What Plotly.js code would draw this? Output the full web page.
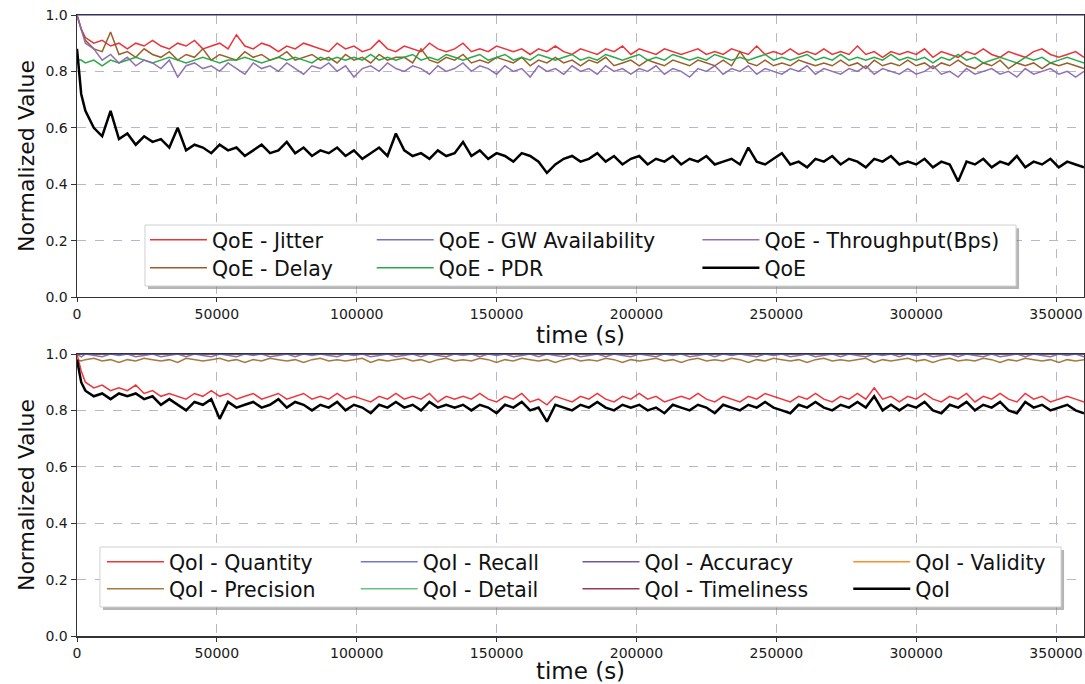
<!DOCTYPE html>
<html>
<head>
<meta charset="utf-8">
<script src="https://cdn.plot.ly/plotly-3.0.1.min.js"></script>
<style>html,body{margin:0;padding:0;background:#fff;}#chart{width:1085px;height:684px;}</style>
</head>
<body>
<div id="chart"></div>
<script>
// time axis (seconds)
const time = [0,1500,3000,6000,9000,12000,15000,18000,21000,24000,27000,30000,33000,36000,39000,42000,45000,48000,51000,54000,57000,60000,63000,66000,69000,72000,75000,78000,81000,84000,87000,90000,93000,96000,99000,102000,105000,108000,111000,114000,117000,120000,123000,126000,129000,132000,135000,138000,141000,144000,147000,150000,153000,156000,159000,162000,165000,168000,171000,174000,177000,180000,183000,186000,189000,192000,195000,198000,201000,204000,207000,210000,213000,216000,219000,222000,225000,228000,231000,234000,237000,240000,243000,246000,249000,252000,255000,258000,261000,264000,267000,270000,273000,276000,279000,282000,285000,288000,291000,294000,297000,300000,303000,306000,309000,312000,315000,318000,321000,324000,327000,330000,333000,336000,339000,342000,345000,348000,351000,354000,357000,360000];
const timeEnds = [0, 360000];

// ---- QoE panel ----
const qoeJitter = [1.00,0.95,0.92,0.90,0.91,0.89,0.90,0.88,0.90,0.89,
0.91,0.89,0.88,0.90,0.89,0.91,0.88,0.89,0.90,0.88,
0.93,0.89,0.88,0.90,0.89,0.87,0.89,0.88,0.90,0.89,
0.88,0.87,0.90,0.88,0.89,0.87,0.88,0.91,0.88,0.87,
0.89,0.88,0.87,0.90,0.88,0.87,0.88,0.90,0.87,0.88,
0.87,0.89,0.88,0.87,0.88,0.86,0.88,0.87,0.89,0.87,
0.86,0.88,0.87,0.86,0.88,0.87,0.89,0.86,0.88,0.87,
0.86,0.88,0.87,0.86,0.87,0.88,0.86,0.87,0.86,0.88,
0.87,0.86,0.89,0.86,0.87,0.86,0.88,0.86,0.87,0.86,
0.88,0.86,0.87,0.86,0.89,0.86,0.87,0.85,0.87,0.86,
0.87,0.86,0.88,0.85,0.87,0.86,0.85,0.87,0.86,0.88,
0.86,0.85,0.87,0.86,0.85,0.87,0.88,0.86,0.85,0.86,
0.87,0.85];
const qoeDelay = [1.00,0.95,0.91,0.88,0.87,0.94,0.86,0.87,0.85,0.88,
0.86,0.85,0.87,0.84,0.86,0.85,0.88,0.84,0.86,0.85,
0.84,0.87,0.85,0.86,0.84,0.85,0.87,0.84,0.85,0.86,
0.84,0.85,0.83,0.86,0.84,0.85,0.83,0.86,0.84,0.85,
0.85,0.83,0.88,0.84,0.83,0.85,0.84,0.86,0.83,0.84,
0.83,0.85,0.84,0.83,0.85,0.82,0.84,0.83,0.85,0.83,
0.84,0.82,0.84,0.83,0.85,0.82,0.83,0.84,0.82,0.84,
0.83,0.82,0.84,0.83,0.82,0.84,0.83,0.82,0.84,0.82,
0.87,0.83,0.82,0.84,0.82,0.83,0.82,0.84,0.83,0.82,
0.83,0.82,0.84,0.82,0.83,0.81,0.84,0.82,0.83,0.82,
0.84,0.82,0.83,0.81,0.83,0.82,0.84,0.82,0.81,0.83,
0.82,0.84,0.81,0.83,0.82,0.83,0.81,0.83,0.82,0.83,
0.82,0.81];
const qoeGW = [1.0, 1.0];
const qoePDR = [0.84,0.84,0.83,0.84,0.82,0.84,0.83,0.84,0.85,0.84,
0.83,0.84,0.85,0.84,0.83,0.84,0.85,0.84,0.83,0.84,
0.84,0.85,0.84,0.83,0.84,0.85,0.84,0.85,0.84,0.83,
0.85,0.84,0.85,0.84,0.85,0.84,0.86,0.84,0.85,0.84,
0.85,0.86,0.84,0.85,0.84,0.86,0.85,0.84,0.85,0.86,
0.84,0.85,0.86,0.84,0.85,0.84,0.86,0.85,0.84,0.85,
0.86,0.84,0.85,0.84,0.86,0.85,0.84,0.85,0.86,0.84,
0.85,0.84,0.86,0.85,0.84,0.85,0.84,0.86,0.85,0.84,
0.85,0.84,0.85,0.86,0.84,0.85,0.84,0.85,0.86,0.84,
0.85,0.84,0.86,0.84,0.85,0.84,0.85,0.84,0.86,0.84,
0.85,0.84,0.85,0.83,0.85,0.84,0.86,0.84,0.85,0.83,
0.84,0.85,0.84,0.83,0.85,0.84,0.85,0.83,0.84,0.85,
0.84,0.83];
const qoeThroughput = [1.00,0.95,0.90,0.88,0.84,0.86,0.83,0.85,0.82,0.84,
0.83,0.81,0.84,0.78,0.82,0.83,0.81,0.82,0.80,0.83,
0.81,0.79,0.83,0.81,0.82,0.80,0.83,0.81,0.79,0.82,
0.81,0.83,0.80,0.82,0.78,0.81,0.82,0.80,0.83,0.81,
0.80,0.82,0.81,0.79,0.82,0.80,0.81,0.83,0.80,0.82,
0.81,0.79,0.82,0.80,0.81,0.78,0.82,0.80,0.81,0.79,
0.82,0.80,0.81,0.79,0.82,0.80,0.81,0.79,0.81,0.80,
0.82,0.79,0.81,0.80,0.78,0.81,0.80,0.82,0.79,0.81,
0.80,0.82,0.79,0.81,0.80,0.79,0.81,0.80,0.82,0.79,
0.81,0.80,0.79,0.81,0.80,0.82,0.79,0.81,0.80,0.79,
0.81,0.79,0.80,0.82,0.79,0.80,0.78,0.81,0.79,0.80,
0.81,0.79,0.80,0.78,0.81,0.79,0.80,0.81,0.79,0.80,
0.78,0.80];
const qoeTotal = [0.88,0.72,0.66,0.60,0.57,0.66,0.56,0.58,0.54,0.57,
0.55,0.56,0.53,0.60,0.52,0.54,0.53,0.51,0.54,0.52,
0.53,0.50,0.52,0.54,0.51,0.52,0.55,0.51,0.53,0.50,
0.52,0.51,0.53,0.50,0.52,0.49,0.51,0.53,0.50,0.58,
0.52,0.50,0.51,0.49,0.52,0.50,0.51,0.55,0.50,0.52,
0.49,0.51,0.50,0.48,0.51,0.50,0.48,0.44,0.47,0.49,
0.50,0.48,0.49,0.51,0.48,0.50,0.47,0.49,0.50,0.47,
0.49,0.48,0.50,0.47,0.49,0.48,0.50,0.47,0.48,0.49,
0.47,0.53,0.48,0.47,0.49,0.51,0.47,0.48,0.46,0.49,
0.48,0.50,0.47,0.49,0.48,0.46,0.49,0.48,0.50,0.47,
0.48,0.47,0.49,0.46,0.48,0.47,0.41,0.48,0.47,0.49,
0.46,0.48,0.47,0.50,0.46,0.48,0.47,0.49,0.46,0.48,
0.47,0.46];

// ---- QoI panel ----
const qoiQuantity = [1.00,0.94,0.90,0.88,0.89,0.87,0.88,0.87,0.89,0.86,
0.87,0.85,0.86,0.85,0.84,0.86,0.85,0.87,0.85,0.86,
0.84,0.85,0.86,0.84,0.85,0.86,0.84,0.85,0.86,0.84,
0.85,0.84,0.86,0.84,0.85,0.84,0.83,0.85,0.84,0.86,
0.84,0.85,0.84,0.86,0.83,0.85,0.84,0.85,0.84,0.86,
0.84,0.83,0.85,0.84,0.86,0.83,0.84,0.82,0.85,0.84,
0.83,0.85,0.84,0.86,0.84,0.83,0.85,0.84,0.86,0.84,
0.85,0.83,0.84,0.85,0.84,0.86,0.84,0.83,0.85,0.84,
0.83,0.85,0.84,0.86,0.85,0.84,0.83,0.85,0.84,0.86,
0.84,0.83,0.85,0.84,0.86,0.84,0.88,0.84,0.85,0.83,
0.85,0.84,0.86,0.84,0.83,0.85,0.84,0.86,0.83,0.85,
0.84,0.86,0.84,0.83,0.86,0.84,0.85,0.83,0.84,0.85,
0.84,0.83];
const qoiPrecision = [0.98,0.975,0.98,0.985,0.975,0.98,0.97,0.98,0.975,0.985,
0.98,0.975,0.98,0.97,0.985,0.98,0.975,0.98,0.985,0.975,
0.98,0.97,0.98,0.975,0.985,0.98,0.975,0.98,0.97,0.98,
0.985,0.975,0.98,0.975,0.98,0.985,0.97,0.98,0.975,0.98,
0.985,0.975,0.98,0.97,0.98,0.985,0.975,0.98,0.975,0.985,
0.98,0.97,0.98,0.975,0.985,0.98,0.975,0.98,0.97,0.98,
0.985,0.975,0.98,0.975,0.985,0.98,0.97,0.98,0.975,0.98,
0.985,0.975,0.98,0.97,0.98,0.985,0.975,0.98,0.975,0.985,
0.98,0.97,0.98,0.975,0.985,0.98,0.975,0.98,0.97,0.98,
0.985,0.975,0.98,0.975,0.98,0.985,0.97,0.98,0.975,0.98,
0.985,0.975,0.98,0.97,0.98,0.985,0.975,0.98,0.975,0.985,
0.98,0.97,0.98,0.975,0.985,0.98,0.975,0.98,0.97,0.98,
0.975,0.98];
const qoiRecall = [1.00,0.99,1.00,0.995,0.99,1.00,0.995,1.00,0.99,0.995,
1.00,0.99,0.995,1.00,0.99,1.00,0.995,0.99,1.00,0.995,
0.99,1.00,0.995,1.00,0.99,0.995,1.00,0.99,1.00,0.995,
1.00,0.995,0.99,1.00,0.995,1.00,0.99,0.995,1.00,0.99,
0.995,1.00,0.99,1.00,0.995,0.99,1.00,0.995,1.00,0.99,
1.00,0.995,1.00,0.99,0.995,1.00,0.99,1.00,0.995,0.99,
1.00,0.99,0.995,1.00,0.99,1.00,0.995,0.99,1.00,0.995,
0.99,1.00,0.995,1.00,0.99,0.995,1.00,0.99,1.00,0.995,
1.00,0.995,0.99,1.00,0.995,1.00,0.99,0.995,1.00,0.99,
0.995,1.00,0.99,1.00,0.995,0.99,1.00,0.995,1.00,0.99,
1.00,0.995,1.00,0.99,0.995,1.00,0.99,1.00,0.995,0.99,
1.00,0.99,0.995,1.00,0.99,1.00,0.995,0.99,1.00,0.995,
1.00,0.99];
const qoiDetail = [1.0, 1.0];
const qoiAccuracy = [1.0, 1.0];
const qoiTimeliness = [1.0, 1.0];
const qoiValidity = [1.0, 1.0];
const qoiTotal = [0.98,0.90,0.87,0.85,0.86,0.84,0.86,0.85,0.86,0.84,
0.85,0.82,0.84,0.82,0.80,0.83,0.82,0.84,0.77,0.83,
0.81,0.82,0.83,0.81,0.82,0.84,0.81,0.83,0.82,0.80,
0.82,0.81,0.83,0.80,0.82,0.81,0.79,0.82,0.81,0.83,
0.81,0.82,0.80,0.83,0.81,0.82,0.81,0.82,0.80,0.82,
0.81,0.79,0.82,0.81,0.83,0.80,0.81,0.76,0.82,0.81,
0.80,0.82,0.81,0.83,0.81,0.80,0.82,0.81,0.82,0.80,
0.81,0.79,0.82,0.81,0.80,0.82,0.81,0.79,0.82,0.81,
0.80,0.82,0.81,0.83,0.81,0.80,0.79,0.82,0.81,0.83,
0.81,0.80,0.82,0.81,0.83,0.81,0.85,0.80,0.82,0.80,
0.82,0.81,0.83,0.80,0.79,0.82,0.81,0.83,0.80,0.82,
0.81,0.83,0.80,0.79,0.83,0.81,0.82,0.80,0.81,0.82,
0.80,0.79];

const xTicks = [0,50000,100000,150000,200000,250000,300000,350000];
const yTicks = [0,0.2,0.4,0.6,0.8,1.0];

const FONT = 'DejaVu Sans, Verdana, sans-serif';

function line(x, y, name, color, width, xa, ya, legend) {
  return {x: x, y: y, name: name, type: 'scatter', mode: 'lines',
    line: {color: color, width: width}, xaxis: xa, yaxis: ya, legend: legend,
    hoverinfo: 'skip'};
}

const traces = [
  line(time, qoeJitter, 'QoE - Jitter', 'rgba(232,30,36,0.9)', 1.5, 'x', 'y', 'legend'),
  line(time, qoeDelay, 'QoE - Delay', 'rgba(150,85,30,0.95)', 1.5, 'x', 'y', 'legend2'),
  line(timeEnds, qoeGW, 'QoE - GW Availability', 'rgba(90,90,180,0.85)', 1.5, 'x', 'y', 'legend3'),
  line(time, qoePDR, 'QoE - PDR', 'rgba(30,165,60,0.95)', 1.5, 'x', 'y', 'legend4'),
  line(time, qoeThroughput, 'QoE - Throughput(Bps)', 'rgba(140,105,175,0.95)', 1.5, 'x', 'y', 'legend5'),
  line(time, qoeTotal, 'QoE', '#000000', 2.5, 'x', 'y', 'legend6'),

  line(timeEnds, qoiAccuracy, 'QoI - Accuracy', 'rgba(100,70,140,0.9)', 1.5, 'x2', 'y2', 'legend11'),
  line(timeEnds, qoiValidity, 'QoI - Validity', 'rgba(255,127,14,0.9)', 1.5, 'x2', 'y2', 'legend13'),
  line(timeEnds, qoiDetail, 'QoI - Detail', 'rgba(60,180,100,0.8)', 1.5, 'x2', 'y2', 'legend10'),
  line(timeEnds, qoiTimeliness, 'QoI - Timeliness', 'rgba(140,40,60,0.9)', 1.5, 'x2', 'y2', 'legend12'),
  line(time, qoiRecall, 'QoI - Recall', 'rgba(80,85,185,0.8)', 1.5, 'x2', 'y2', 'legend9'),
  line(time, qoiPrecision, 'QoI - Precision', 'rgba(160,105,40,0.9)', 1.5, 'x2', 'y2', 'legend8'),
  line(time, qoiQuantity, 'QoI - Quantity', 'rgba(240,30,36,0.9)', 1.5, 'x2', 'y2', 'legend7'),
  line(time, qoiTotal, 'QoI', '#000000', 2.5, 'x2', 'y2', 'legend14')
];

function leg(x, y) {
  return {x: x, y: y, xanchor: 'left', yanchor: 'middle', orientation: 'v',
    bgcolor: 'rgba(0,0,0,0)', borderwidth: 0, itemwidth: 57,
    font: {family: FONT, size: 20.5, color: '#111'}};
}

function xaxis(anchor) {
  return {anchor: anchor, range: [0, 360000], tickvals: xTicks, tickformat: 'd',
    showgrid: true, gridcolor: '#b8b8c4', griddash: 'dash', gridwidth: 1,
    showline: true, mirror: true, linecolor: '#333', linewidth: 1.5,
    ticks: 'outside', ticklen: 4, tickcolor: '#333', zeroline: false,
    tickfont: {family: FONT, size: 14, color: '#1a1a1a'},
    title: {text: 'time (s)', font: {family: FONT, size: 23, color: '#111'}, standoff: 5},
    automargin: false};
}
function yaxis(anchor, domain) {
  return {anchor: anchor, domain: domain, range: [0, 1], tickvals: yTicks, tickformat: '.1f',
    showgrid: true, gridcolor: '#b8b8c4', griddash: 'dash', gridwidth: 1,
    showline: true, mirror: true, linecolor: '#333', linewidth: 1.5,
    ticks: 'outside', ticklen: 5, tickcolor: '#333', zeroline: false,
    tickfont: {family: FONT, size: 14, color: '#1a1a1a'},
    title: {text: 'Normalized Value', font: {family: FONT, size: 22, color: '#111'}, standoff: 4},
    automargin: false};
}

function box(x0, x1, y0, y1) {
  return [
    {type: 'rect', xref: 'paper', yref: 'paper', x0: x0 + 0.003, x1: x1 + 0.003, y0: y0 - 0.005, y1: y1 - 0.005,
      fillcolor: 'rgba(120,120,120,0.55)', line: {width: 0}, layer: 'above'},
    {type: 'rect', xref: 'paper', yref: 'paper', x0: x0, x1: x1, y0: y0, y1: y1,
      fillcolor: '#ffffff', line: {color: '#d0d0d0', width: 1}, layer: 'above'}
  ];
}

const layout = {
  width: 1085, height: 684,
  margin: {l: 77, r: 1, t: 15, b: 48},
  paper_bgcolor: '#ffffff', plot_bgcolor: '#ffffff',
  xaxis: xaxis('y'),
  yaxis: yaxis('x', [0.5459, 1]),
  xaxis2: xaxis('y2'),
  yaxis2: yaxis('x2', [0, 0.4541]),
  shapes: box(0.0675, 0.9325, 0.5636, 0.6618).concat(box(0.0228, 0.9772, 0.0467, 0.1433)),
  legend: leg(0.0675, 0.6377),
  legend2: leg(0.0675, 0.5926),
  legend3: leg(0.2927, 0.6377),
  legend4: leg(0.2927, 0.5926),
  legend5: leg(0.6161, 0.6377),
  legend6: leg(0.6161, 0.5926),
  legend7: leg(0.0248, 0.1192),
  legend8: leg(0.0248, 0.0757),
  legend9: leg(0.2768, 0.1192),
  legend10: leg(0.2768, 0.0757),
  legend11: leg(0.4970, 0.1192),
  legend12: leg(0.4970, 0.0757),
  legend13: leg(0.7659, 0.1192),
  legend14: leg(0.7659, 0.0757),
  showlegend: true
};

Plotly.newPlot('chart', traces, layout, {staticPlot: true, displayModeBar: false});
</script>
</body>
</html>
